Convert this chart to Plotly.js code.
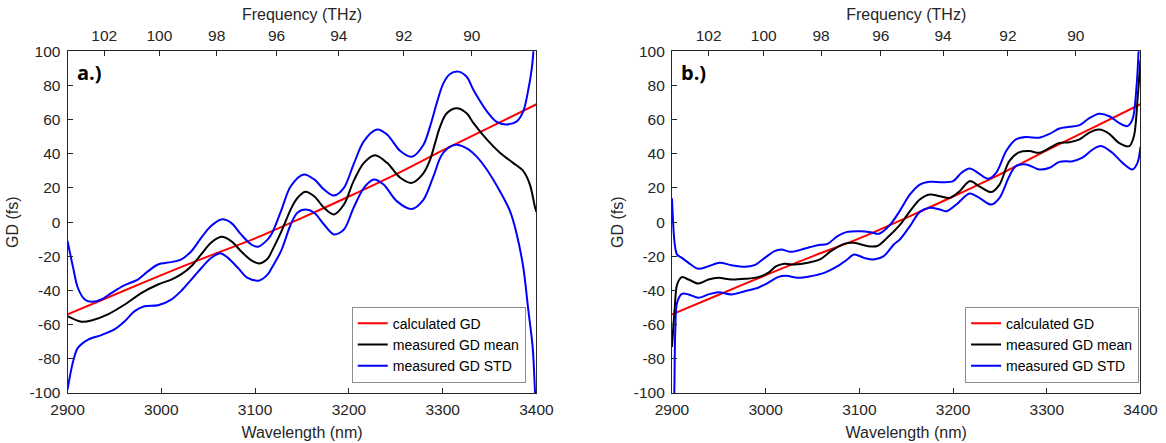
<!DOCTYPE html>
<html>
<head>
<meta charset="utf-8">
<script src="https://cdn.plot.ly/plotly-3.0.1.min.js"></script>
<style>html,body{margin:0;padding:0;background:#fff;}#chart{width:1166px;height:443px;}</style>
</head>
<body>
<div id="chart"></div>
<script>
// ---------- data ----------
const freqTicksTHz = [102, 100, 98, 96, 94, 92, 90];
const wlTicks = [2900, 3000, 3100, 3200, 3300, 3400];
const gdTicks = [-100, -80, -60, -40, -20, 0, 20, 40, 60, 80, 100];

// calculated GD (same in both panels)
const calcWl = [2900, 2950, 3000, 3050, 3100, 3150, 3200, 3250, 3300, 3350, 3400];
const calcGd = [-54, -42.5, -31, -20, -9.5, 2.5, 15, 28, 42, 55.5, 69];

// panel a.) measured GD mean
const aMeanWl = [2900, 2915, 2925.5, 2943, 2961, 2979, 2996.5, 3010.6, 3021, 3032, 3042.5, 3053, 3064, 3074.5, 3085, 3096, 3104.6, 3113.5, 3118, 3127.6, 3138, 3145, 3153.4, 3163, 3173.5, 3184, 3194.7, 3205, 3216, 3228, 3240.7, 3254.8, 3267, 3279.4, 3286.5, 3291.8, 3297.2, 3304.3, 3315, 3325.6, 3332.7, 3347, 3361, 3375, 3386, 3393, 3398.4, 3400];
const aMeanGd = [-55, -58.3, -57.6, -54, -48.2, -41.4, -36.5, -33.6, -30.6, -25.8, -18.9, -12.1, -8.6, -11.1, -17, -22.4, -24.2, -21.3, -16.8, -6, 7.5, 14, 17.8, 15.2, 8.4, 4.5, 10.3, 24, 34.7, 39.2, 34.7, 26, 23, 28.6, 36.4, 46.1, 55.9, 63.7, 66.6, 63.7, 58.1, 48.4, 40.6, 34.7, 29.9, 22, 8.8, 6];

// panel a.) measured GD STD, upper envelope
const aUpWl = [2900, 2906, 2911, 2918.4, 2925.5, 2936, 2947, 2961, 2975, 2986, 2996.5, 3010.6, 3021, 3032, 3042.5, 3053, 3064, 3074.5, 3085, 3096, 3103, 3113.5, 3118, 3127.6, 3138, 3152, 3163, 3173.5, 3184, 3194.7, 3205, 3216, 3230, 3240.7, 3254.8, 3267, 3279.4, 3286.5, 3293.6, 3300.7, 3307.8, 3316.7, 3325.6, 3332.7, 3347, 3357.6, 3368, 3379, 3386, 3391, 3395, 3397, 3400];
const aUpGd = [-11, -26.7, -38.4, -45.3, -46.6, -45.3, -41.4, -36.9, -33.6, -28.7, -24.8, -23.4, -21.9, -17, -9.2, -2.3, 1.6, -0.4, -7.2, -13.1, -14.4, -10.1, -6.5, 6.4, 21, 27.9, 25, 19.1, 15.6, 20.1, 33.8, 47.4, 54.2, 51.3, 41.6, 38.3, 45.2, 55.9, 69.5, 81.2, 86.7, 88.1, 85.1, 77.5, 65, 58.7, 57.2, 59, 65, 76.7, 90, 102, 140];

// panel a.) measured GD STD, lower envelope
const aLoWl = [2900, 2906, 2911, 2922, 2936, 2950, 2961, 2971.6, 2982, 2996.5, 3010.6, 3021, 3032, 3042.5, 3053, 3063, 3071, 3081.6, 3092, 3104.6, 3113.5, 3118, 3127.6, 3138, 3145, 3154, 3163, 3173.5, 3184, 3194.7, 3205, 3216, 3226.5, 3237, 3251, 3267, 3279.4, 3290, 3299, 3309.6, 3316.7, 3327.4, 3336, 3347, 3361, 3371.8, 3379, 3386, 3391, 3396, 3398.4, 3400];
const aLoGd = [-98, -81.4, -73.6, -68.7, -66.1, -62.8, -58, -52.1, -49.2, -48.6, -45.3, -40.4, -33.6, -27, -21, -18.2, -20.9, -26.7, -32.6, -34.1, -30.6, -26.5, -17, -1.4, 5.5, 7.4, 5.5, -1.4, -7.2, -4.3, 8.4, 20.1, 25, 22, 12.3, 7.7, 13, 26.6, 39.3, 44.6, 45.2, 42.6, 38.5, 30.8, 18.1, 6.4, -7.2, -26.7, -50, -73.6, -99, -120];

// panel b.) measured GD mean
const bMeanWl = [2900, 2903, 2905.5, 2910.6, 2917.7, 2928, 2939, 2949.5, 2963.6, 2977.7, 2992, 3002.5, 3011.3, 3020, 3030.7, 3045, 3059, 3069.6, 3083.7, 3094.3, 3108.5, 3119, 3129.7, 3143.5, 3154, 3164.5, 3175, 3186, 3196.5, 3207, 3217.7, 3228, 3240.8, 3249.6, 3260, 3271, 3281.6, 3292, 3303, 3313.5, 3324, 3335, 3345, 3356, 3366.7, 3377, 3388, 3393, 3397, 3400];
const bMeanGd = [-73, -50, -36.5, -32.2, -33.6, -35.9, -33.6, -32.6, -33.6, -33.2, -32.2, -29.7, -25.8, -24.4, -24.8, -23.8, -21.5, -17, -12.7, -12.1, -14, -14, -9.2, -1.5, 6.4, 13.3, 16.2, 15.2, 14.2, 18.1, 24, 21, 17.6, 22, 35.7, 41, 41.6, 40.6, 43.5, 46.4, 46.8, 48.4, 52.3, 54.2, 51.7, 46.4, 44.5, 50.3, 72.8, 95];

// panel b.) measured GD STD, upper envelope
const bUpWl = [2900, 2903, 2905.5, 2910.6, 2917.7, 2928, 2939, 2951, 2963.6, 2977.7, 2988, 2999, 3009.5, 3016.6, 3027, 3041, 3055.5, 3066, 3076.7, 3087, 3101, 3112, 3121, 3133, 3143.5, 3154, 3164.5, 3175, 3189, 3200, 3209, 3217.7, 3228, 3237, 3246, 3256.7, 3267, 3278, 3292, 3303, 3313.5, 3324, 3335, 3345, 3356, 3366.7, 3377, 3386, 3391.5, 3395.7, 3398, 3400];
const bUpGd = [14, -13, -19, -20.9, -23.8, -27.3, -25.8, -23.8, -25.2, -26.1, -25.2, -20.9, -17, -16, -17.4, -15.6, -13.5, -12.7, -8.2, -5.7, -5.3, -5.9, -6.8, -1.4, 6.9, 16.2, 22, 23.6, 23.4, 24, 28.9, 31.4, 28.3, 25.4, 28.9, 41.6, 48.4, 49.8, 49.4, 51.7, 54.8, 55.8, 56.8, 60.7, 63.4, 62, 58.1, 56.2, 60.1, 78.6, 100, 130];

// panel b.) measured GD STD, lower envelope
const bLoWl = [2900, 2902.5, 2903.5, 2905.5, 2910.6, 2917.7, 2928, 2939, 2949.5, 2963.6, 2977.7, 2992, 3002.5, 3013, 3022, 3034, 3048.4, 3062.5, 3076.7, 3087, 3094.3, 3105, 3115.5, 3126, 3136.7, 3143.5, 3154, 3164.5, 3175, 3186, 3193, 3203.5, 3217.7, 3228, 3240.8, 3249.6, 3260, 3267, 3278, 3292, 3303, 3313.5, 3327.7, 3338, 3348.9, 3357.8, 3370, 3380.9, 3391.5, 3396.8, 3400];
const bLoGd = [-150, -100, -63.8, -47.2, -42, -42.3, -44.3, -42.3, -41, -42.3, -40.4, -38.4, -35.5, -32.2, -31.4, -32.6, -31.6, -29.7, -25.8, -21.9, -18.9, -20.9, -21.9, -19.9, -13.1, -10, -2.3, 6, 8.4, 7.4, 6.4, 10.3, 16.8, 14.2, 10.3, 14.2, 26.9, 32.8, 33.8, 30.8, 31.8, 35.3, 35.7, 37.7, 42.5, 44.5, 40.6, 34.7, 30.8, 34.7, 44];

const seriesNames = ['calculated GD', 'measured GD mean', 'measured GD STD'];
const seriesColors = ['#ff0000', '#000000', '#0000ff'];

// ---------- chart ----------
const C_NM_THZ = 299792.458;              // c in nm*THz
const freqTickPos = freqTicksTHz.map(f => C_NM_THZ / f);
const FONT = 'Liberation Sans, Arial, sans-serif';
const AX = '#262626';

function line(x, y, color, name, xa, ya, leg, show) {
  return {
    type: 'scatter', mode: 'lines', x: x, y: y, name: name,
    xaxis: xa, yaxis: ya, legend: leg, showlegend: show,
    line: {color: color, width: 2, shape: 'spline', smoothing: 0.9},
    hoverinfo: 'skip'
  };
}

const traces = [
  line(calcWl, calcGd, seriesColors[0], seriesNames[0], 'x', 'y', 'legend', true),
  line(aMeanWl, aMeanGd, seriesColors[1], seriesNames[1], 'x', 'y', 'legend', true),
  line(aUpWl, aUpGd, seriesColors[2], seriesNames[2], 'x', 'y', 'legend', true),
  line(aLoWl, aLoGd, seriesColors[2], seriesNames[2], 'x', 'y', 'legend', false),
  line(calcWl, calcGd, seriesColors[0], seriesNames[0], 'x3', 'y2', 'legend2', true),
  line(bMeanWl, bMeanGd, seriesColors[1], seriesNames[1], 'x3', 'y2', 'legend2', true),
  line(bUpWl, bUpGd, seriesColors[2], seriesNames[2], 'x3', 'y2', 'legend2', true),
  line(bLoWl, bLoGd, seriesColors[2], seriesNames[2], 'x3', 'y2', 'legend2', false),
  {type: 'scatter', mode: 'lines', x: [], y: [], xaxis: 'x2', yaxis: 'y', showlegend: false, hoverinfo: 'skip'},
  {type: 'scatter', mode: 'lines', x: [], y: [], xaxis: 'x4', yaxis: 'y2', showlegend: false, hoverinfo: 'skip'}
];

const tickFont = {family: FONT, size: 15.5, color: AX};
const titleFont = {family: FONT, size: 16, color: AX};

function bottomX(domain, anchor) {
  return {
    domain: domain, anchor: anchor, range: [2900, 3400],
    tickmode: 'array', tickvals: wlTicks, ticktext: wlTicks.map(String),
    ticks: 'inside', ticklen: 5, tickwidth: 1, tickcolor: AX,
    showline: true, linecolor: AX, linewidth: 1, mirror: true,
    showgrid: false, zeroline: false, tickfont: tickFont, automargin: false,
    ticklabelstandoff: 2,
    title: {text: 'Wavelength (nm)', font: titleFont, standoff: 10}
  };
}
function topX(over, anchor) {
  return {
    overlaying: over, anchor: anchor, side: 'top', range: [2900, 3400],
    tickmode: 'array', tickvals: freqTickPos, ticktext: freqTicksTHz.map(String),
    ticks: 'inside', ticklen: 5, tickwidth: 1, tickcolor: AX,
    showline: false, showgrid: false, zeroline: false, tickfont: tickFont, automargin: false,
    ticklabelstandoff: 6,
    title: {text: 'Frequency (THz)', font: titleFont, standoff: 2}
  };
}
function leftY(anchor) {
  return {
    domain: [0.1129, 0.8842], anchor: anchor, range: [-100, 100],
    tickmode: 'array', tickvals: gdTicks, ticktext: gdTicks.map(String),
    ticks: 'inside', ticklen: 5, tickwidth: 1, tickcolor: AX,
    showline: true, linecolor: AX, linewidth: 1, mirror: true,
    showgrid: false, zeroline: false, tickfont: tickFont, automargin: false,
    ticklabelstandoff: 3,
    title: {text: 'GD (fs)', font: titleFont, standoff: 6}
  };
}
function legendAt(x) {
  return {
    x: x, y: 0.1361, xanchor: 'right', yanchor: 'bottom',
    bgcolor: '#ffffff', bordercolor: '#8c8c8c', borderwidth: 1,
    font: {family: FONT, size: 14, color: '#000000'},
    tracegroupgap: 0, itemclick: false, itemdoubleclick: false
  };
}

const layout = {
  width: 1166, height: 443,
  margin: {l: 0, r: 0, t: 0, b: 0},
  paper_bgcolor: '#ffffff', plot_bgcolor: '#ffffff',
  showlegend: true,
  xaxis: bottomX([0.0579, 0.4601], 'y'),
  xaxis2: topX('x', 'y'),
  xaxis3: bottomX([0.5763, 0.9781], 'y2'),
  xaxis4: topX('x3', 'y2'),
  yaxis: leftY('x'),
  yaxis2: leftY('x3'),
  legend: legendAt(0.4509),
  legend2: legendAt(0.9769),
  annotations: [
    {text: '<b>a.)</b>', xref: 'x domain', yref: 'y domain', x: 0.016, y: 0.937,
     xanchor: 'left', yanchor: 'middle', showarrow: false,
     font: {family: 'Open Sans, sans-serif', size: 20, color: '#000'}},
    {text: '<b>b.)</b>', xref: 'x3 domain', yref: 'y2 domain', x: 0.016, y: 0.937,
     xanchor: 'left', yanchor: 'middle', showarrow: false,
     font: {family: 'Open Sans, sans-serif', size: 20, color: '#000'}}
  ]
};

Plotly.newPlot('chart', traces, layout, {displayModeBar: false, staticPlot: true});
</script>
</body>
</html>
